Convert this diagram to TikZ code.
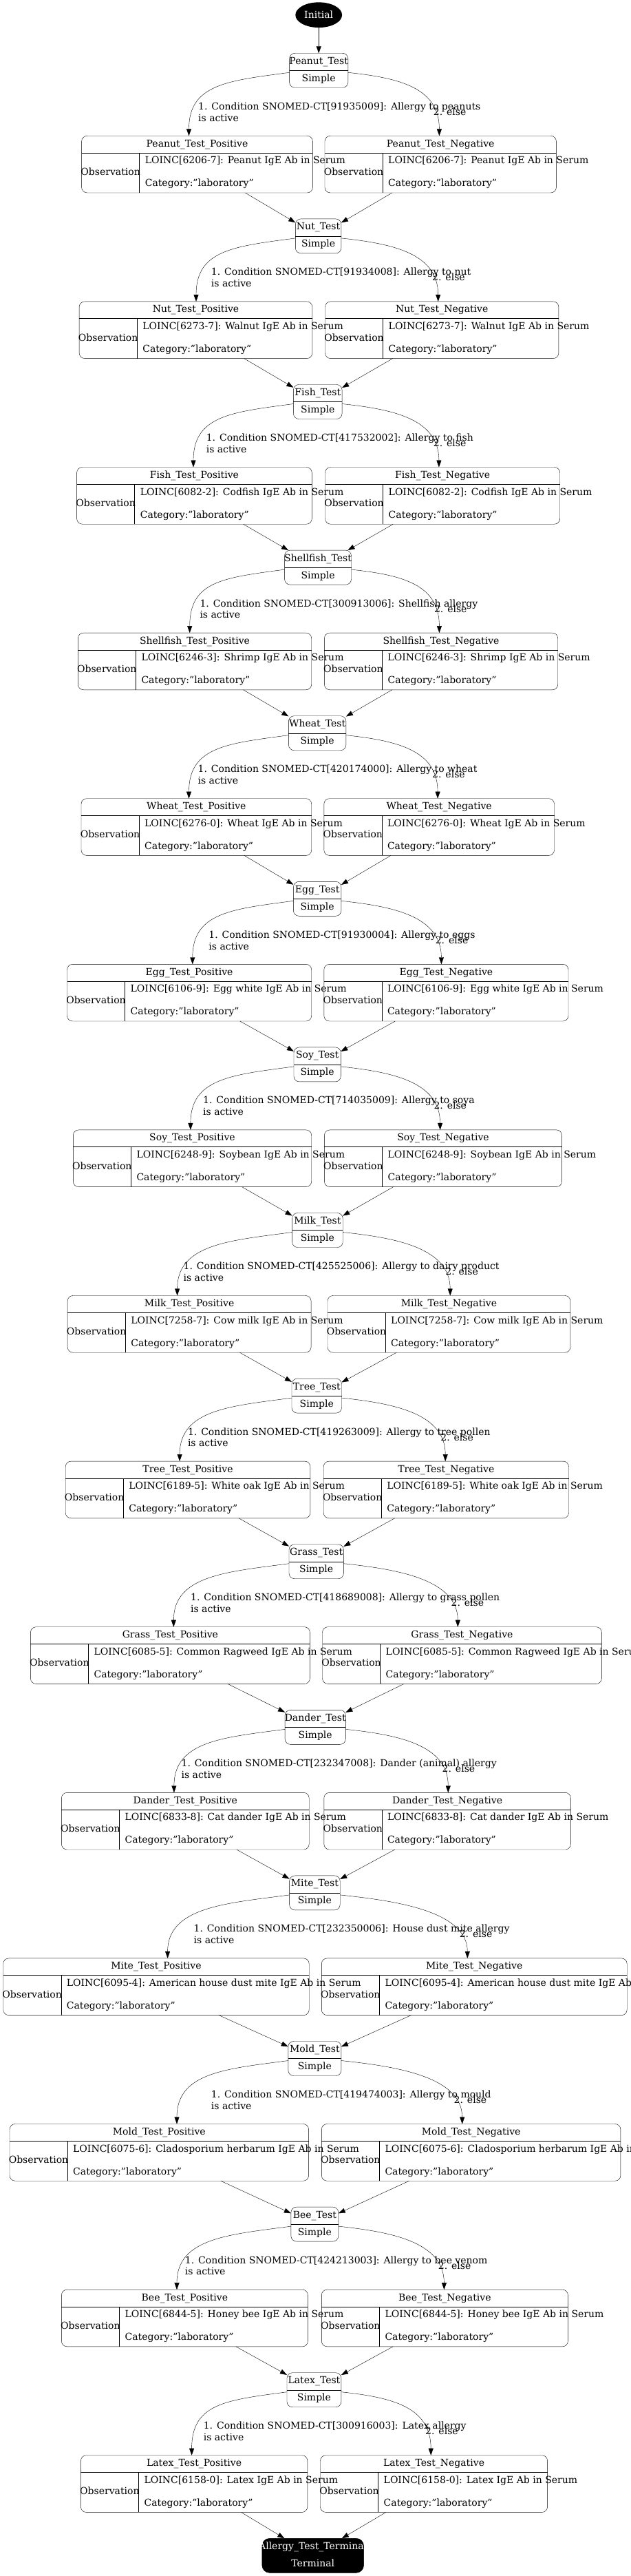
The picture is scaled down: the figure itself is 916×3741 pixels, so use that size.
\documentclass[tikz,border=0pt]{standalone}
\usepackage{fontspec}
\setmainfont{DejaVu Serif}
\usetikzlibrary{arrows.meta,shapes.geometric}

\tikzset{
  lbl/.style={font=\fontsize{14}{16.8}\selectfont, inner sep=0pt, text height=10pt, text depth=3pt},
  cond/.style={font=\fontsize{14}{16.8}\selectfont, inner sep=0pt, align=left, anchor=base west},
  testbox/.style={draw, rounded corners=8pt, minimum height=50pt, inner sep=0pt, outer sep=0pt},
  recbox/.style={draw, rounded corners=8pt, minimum height=82.7pt, inner sep=0pt, outer sep=0pt},
  flow/.style={-{Triangle[length=10pt,width=7pt]}},
}

% name, left, right, top, title
\newcommand{\testrec}[5]{
  \node[testbox, minimum width={#3-#2}, anchor=north west] (#1) at (#2,-#4) {};
  \draw (#2,-#4-25) -- (#3,-#4-25);
  \node[lbl] (#1-name) at ({(#2+#3)/2},-#4-12.5) {#5};
  \node[lbl] (#1-kind) at ({(#2+#3)/2},-#4-37.5) {Simple};
}
% name, left, right, top, title, code line
\newcommand{\obsrec}[6]{
  \node[recbox, minimum width={#3-#2}, anchor=north west] (#1) at (#2,-#4) {};
  \draw (#2,-#4-24.7) -- (#3,-#4-24.7) (#2+84,-#4-24.7) -- (#2+84,-#4-82.7);
  \node[lbl] (#1-title) at ({(#2+#3)/2},-#4-12.4) {#5};
  \node[lbl] (#1-kind) at (#2+42,-#4-53.7) {Observation};
  \node[lbl, anchor=west] (#1-code) at (#2+92,-#4-37) {#6};
  \node[lbl, anchor=west] (#1-cat) at (#2+92,-#4-70) {Category:"laboratory"};
}

\begin{document}
\begin{tikzpicture}[x=1pt,y=1pt]
\useasboundingbox (0,0) rectangle (916,-3741);

\node[ellipse, fill=black, text=white, minimum width=67.8pt, minimum height=36.7pt, inner sep=0pt, font=\fontsize{14}{16.8}\selectfont] (initial) at (463.2,-21.7) {Initial};

\foreach \nm/\T/\tl/\tr/\pl/\pr/\nl/\nr/\tp/\tn/\lx/\ex/\sct/\cnd/\lc/\lt in {
  Peanut/77.3/420.6/505.8/118.6/454.4/472.0/808.4/274.5/638.4/288.0/629.7/91935009/{Allergy to peanuts}/6206-7/{Peanut IgE Ab in Serum},
  Nut/317.9/429.3/495.9/115.1/453.9/472.5/811.9/285.0/636.7/306.7/628.0/91934008/{Allergy to nut}/6273-7/{Walnut IgE Ab in Serum},
  Fish/558.5/426.4/497.1/111.6/453.3/472.5/813.7/281.0/637.9/299.6/629.7/417532002/{Allergy to fish}/6082-2/{Codfish IgE Ab in Serum},
  Shellfish/799.1/413.6/510.5/113.3/452.7/471.4/810.7/275.7/638.4/290.3/630.8/300913006/{Shellfish allergy}/6246-3/{Shrimp IgE Ab in Serum},
  Wheat/1039.7/419.4/502.9/118.0/452.7/470.8/805.5/274.5/636.1/287.4/628.0/420174000/{Allergy to wheat}/6276-0/{Wheat IgE Ab in Serum},
  Egg/1280.3/426.4/495.9/97.5/452.7/470.8/826.0/279.8/641.4/303.2/632.6/91930004/{Allergy to eggs}/6106-9/{Egg white IgE Ab in Serum},
  Soy/1520.9/427.0/495.3/106.3/452.7/471.4/816.6/276.9/639.6/295.0/630.3/714035009/{Allergy to soya}/6248-9/{Soybean IgE Ab in Serum},
  Milk/1761.5/424.6/498.2/98.1/452.1/476.0/828.9/257.6/654.2/266.4/647.2/425525006/{Allergy to dairy product}/7258-7/{Cow milk IgE Ab in Serum},
  Tree/2002.1/424.0/496.5/95.2/450.9/470.2/826.5/261.1/647.2/272.8/640.2/419263009/{Allergy to tree pollen}/6189-5/{White oak IgE Ab in Serum},
  Grass/2242.7/420.0/499.4/44.4/450.4/468.5/874.4/252.3/665.3/276.9/655.4/418689008/{Allergy to grass pollen}/6085-5/{Common Ragweed IgE Ab in Serum},
  Dander/2483.3/414.1/502.3/89.4/449.2/470.8/829.4/252.9/651.3/263.4/642.5/232347008/{Dander (animal) allergy}/6833-8/{Cat dander IgE Ab in Serum},
  Mite/2723.9/420.6/494.2/4.7/449.2/467.3/911.2/243.6/679.3/281.5/667.6/232350006/{House dust mite allergy}/6095-4/{American house dust mite IgE Ab in Serum},
  Mold/2964.5/418.8/495.9/14.0/448.6/467.3/901.9/257.0/671.7/306.7/659.5/419474003/{Allergy to mould}/6075-6/{Cladosporium herbarum IgE Ab in Serum},
  Bee/3205.1/422.9/491.8/89.4/447.4/467.3/825.4/257.0/645.4/268.7/636.7/424213003/{Allergy to bee venom}/6844-5/{Honey bee IgE Ab in Serum},
  Latex/3445.7/417.0/495.9/117.4/446.8/465.5/795.6/278.6/626.2/295.6/618.0/300916003/{Latex allergy}/6158-0/{Latex IgE Ab in Serum}}
{
  \pgfmathsetmacro\rt{\T+120}
  \testrec{\nm-test}{\tl}{\tr}{\T}{\nm\_Test}
  \obsrec{\nm-pos}{\pl}{\pr}{\rt}{\nm\_Test\_Positive}{LOINC[\lc]: \lt}
  \obsrec{\nm-neg}{\nl}{\nr}{\rt}{\nm\_Test\_Negative}{LOINC[\lc]: \lt}
  \node[cond] (\nm-yes) at (\lx,-\T-98.8) {1. Condition SNOMED-CT[\sct]: \cnd\\is active};
  \node[cond] (\nm-else) at (\ex,-\T-90) {2. else};
  \draw[flow] ([yshift=-3pt]\nm-test.west) .. controls +(-90,-12) and +(0,75) .. ([xshift=\tp-\pl]\nm-pos.north west);
  \draw[flow] ([yshift=-3pt]\nm-test.east) .. controls +(75,-8) and +(0,70) .. ([xshift=\tn-\nl]\nm-neg.north west);
}

\node[testbox, fill=black, rounded corners=11pt, minimum width=147.8pt, anchor=north] (terminal) at (454.7,-3686.3) {};
\node[lbl, text=white] (terminal-name) at (454.7,-3698.8) {Allergy\_Test\_Terminal};
\node[lbl, text=white] (terminal-kind) at (454.7,-3723.8) {Terminal};

\draw[flow] (initial) -- (Peanut-test);
\foreach \a/\b in {Peanut/Nut, Nut/Fish, Fish/Shellfish, Shellfish/Wheat, Wheat/Egg, Egg/Soy, Soy/Milk, Milk/Tree, Tree/Grass, Grass/Dander, Dander/Mite, Mite/Mold, Mold/Bee, Bee/Latex}
{
  \draw[flow] (\a-pos) -- (\b-test);
  \draw[flow] (\a-neg) -- (\b-test);
}
\draw[flow] (Latex-pos) -- (terminal);
\draw[flow] (Latex-neg) -- (terminal);

\end{tikzpicture}
\end{document}
